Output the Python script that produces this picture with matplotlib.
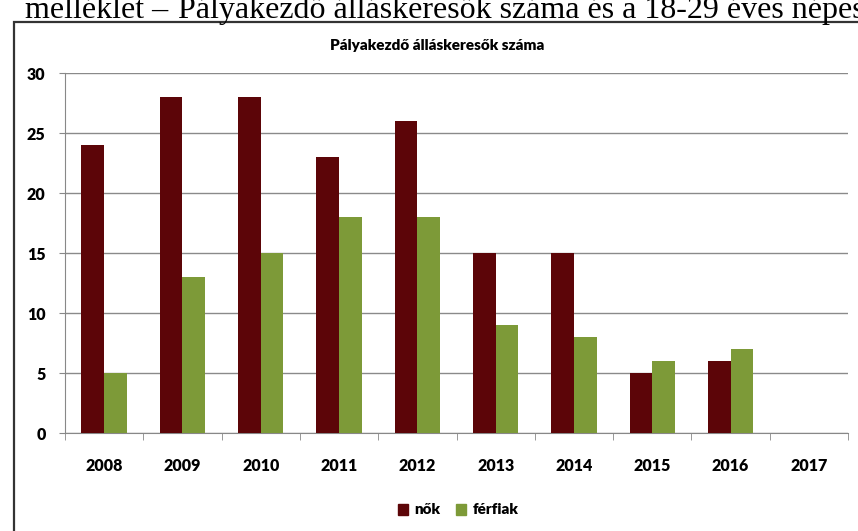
import numpy as np
import matplotlib.pyplot as plt
from matplotlib.patches import Rectangle, Patch

years = ['2008', '2009', '2010', '2011', '2012', '2013', '2014', '2015', '2016', '2017']
nok = [24, 28, 28, 23, 26, 15, 15, 5, 6, np.nan]
ferfiak = [5, 13, 15, 18, 18, 9, 8, 6, 7, np.nan]

RED = '#5c0508'
GREEN = '#7d9a38'
W, H = 858, 531

fig = plt.figure(figsize=(W / 100, H / 100), dpi=100)
plt.rcParams['font.family'] = ['Lato', 'DejaVu Sans']

# scanned page caption, cut off at the top edge like in the scan
cap_y = 1 - 18 / H
fig.text(168 / W, cap_y, 'melléklet –', fontsize=23, family=['Liberation Serif'],
         va='baseline', ha='right')
fig.text(178 / W, cap_y, 'Pályakezdő álláskeresők száma és a 18-29 éves népesség',
         fontsize=23, family=['Liberation Serif'], va='baseline', ha='left')

# chart frame
fig.patches.append(Rectangle((14 / W, -0.1), 1.2, 1 - 22 / H + 0.1, transform=fig.transFigure,
                             fill=False, edgecolor='#333333', lw=1.6))

ax = fig.add_axes([65 / W, 1 - 433 / H, (848 - 65) / W, (433 - 73) / H])
x = np.arange(len(years))
bw = 0.29
ax.bar(x - bw / 2, nok, bw, color=RED, label='nők', zorder=3)
ax.bar(x + bw / 2, ferfiak, bw, color=GREEN, label='férfiak', zorder=3)

ax.set_xlim(-0.5, len(years) - 0.5)
ax.set_ylim(0, 30)
ax.set_yticks(range(0, 31, 5))
ax.set_yticklabels([str(v) for v in range(0, 31, 5)], fontsize=11.5, fontweight='heavy')
ax.set_xticks(x)
ax.set_xticklabels(years, fontsize=11.5, fontweight='heavy')
ax.tick_params(axis='x', length=0, pad=18)
ax.tick_params(axis='y', length=4, color='#888888', pad=10)
ax.set_xticks(np.arange(-0.5, len(years)), minor=True)
ax.tick_params(axis='x', which='minor', length=5, color='#888888')
ax.grid(axis='y', color='#8a8a8a', lw=1.0, zorder=0)
for s in ['top', 'right']:
    ax.spines[s].set_visible(False)
ax.spines['left'].set_color('#888888')
ax.spines['bottom'].set_color('#888888')

fig.text(437 / W, 1 - 45 / H, 'Pályakezdő álláskeresők száma', fontsize=11,
         fontweight='heavy', ha='center', va='center')

handles = [Patch(color=RED, label='nők'), Patch(color=GREEN, label='férfiak')]
fig.legend(handles=handles, loc='center', bbox_to_anchor=(458 / W, 1 - 510 / H), ncol=2,
           frameon=False, prop={'weight': 'heavy', 'size': 11}, handlelength=0.7,
           handleheight=0.7, handletextpad=0.4, columnspacing=1.0)

fig.savefig('out.png', dpi=100, facecolor='white')
